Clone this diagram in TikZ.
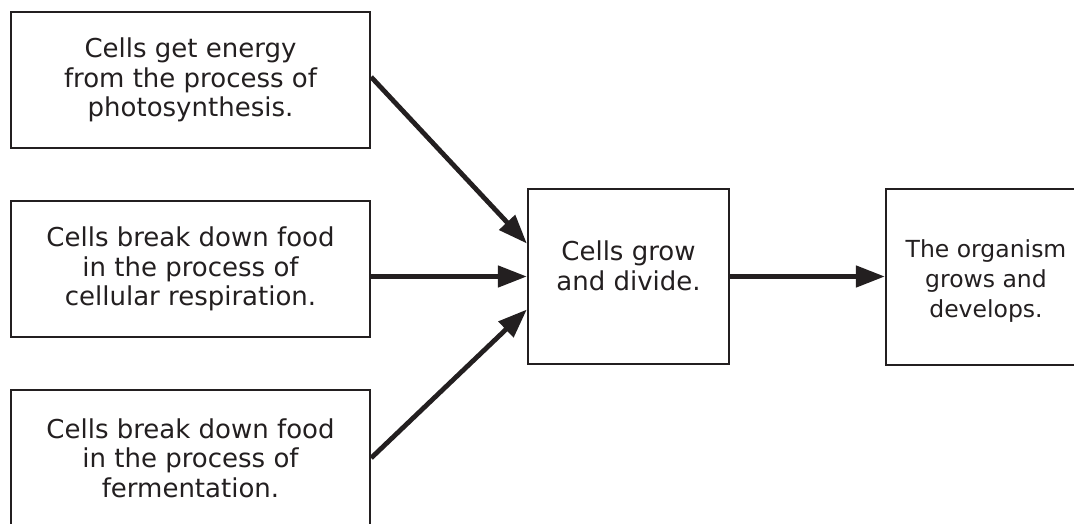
\documentclass[tikz,border=0pt]{standalone}
\usepackage{fontspec}
\setmainfont{DejaVu Sans}
\usetikzlibrary{arrows.meta,calc}
\definecolor{ink}{HTML}{231F20}
\begin{document}
\begin{tikzpicture}[x=1pt,y=-1pt,
  box/.style={draw=ink, line width=2.3pt, fill=white, inner sep=0pt, align=center,
    font=\fontsize{26}{29.5}\selectfont, text=ink},
  wide/.style={box, minimum width=359pt, minimum height=136pt},
  txt/.style={inner sep=0pt, align=center, font=\fontsize{26}{29.5}\selectfont, text=ink},
  arr/.style={draw=ink, line width=4.8pt, -{Triangle[length=29pt,width=21pt]}}]
\clip (0,0) rectangle (1074,523);
\node[wide] (b1) at (190.5,80) {Cells get energy\\from the process of\\photosynthesis.};
\node[wide] (b2) at (190.5,269) {Cells break down food\\in the process of\\cellular respiration.};
\node[wide] (b3) at (190.5,458) {Cells break down food\\in the process of\\fermentation.};
\node[box, minimum width=201pt, minimum height=175pt] (mid) at (628.5,276.5) {};
\node[txt] (midtext) at (628.5,266) {Cells grow\\and divide.};
\node[box, minimum width=200pt, minimum height=176pt] (out) at (986,277) {};
\node[txt, font=\fontsize{23.5}{30}\selectfont] (outtext) at (986,281) {The organism\\grows and\\develops.};
\draw[arr] ($(b1.east)+(0,-3)$) -- ($(mid.west)+(0,-33)$);
\draw[arr] (b2.east |- mid.west) -- (mid.west);
\draw[arr] (b3.east) -- ($(mid.west)+(0,33)$);
\draw[arr] (mid.east) -- (out.west |- mid.east);
\end{tikzpicture}
\end{document}
